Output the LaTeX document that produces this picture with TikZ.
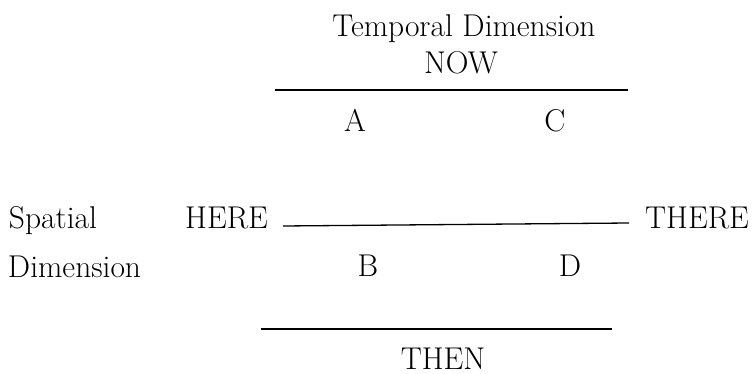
\documentclass[tikz,border=0pt]{standalone}
\begin{document}
\begin{tikzpicture}[x=1pt,y=-1pt,
  lbl/.style={inner sep=0pt,outer sep=0pt,font=\fontsize{31.5}{37}\selectfont},
  thick line/.style={line width=2.6pt},
  thin line/.style={line width=1.3pt}]
\useasboundingbox (0,0) rectangle (753,374);
% top
\node[lbl,anchor=base] (temporal) at (464,37) {Temporal Dimension};
\node[lbl,anchor=base] (now) at (461,74) {NOW};
\coordinate (nowL) at (275,90);
\coordinate (nowR) at (628,90);
\draw[thick line] (nowL) -- (nowR);
\node[lbl,anchor=base] (a) at (355,132) {A};
\node[lbl,anchor=base] (c) at (555,132) {C};
% middle
\node[lbl,anchor=base west] (spatial) at (9,229) {Spatial};
\node[lbl,anchor=base east] (here) at (268,229) {HERE};
\node[lbl,anchor=base east] (there) at (749,229) {THERE};
\coordinate (hl) at (283,226);
\coordinate (hr) at (629,223);
\draw[thin line] (hl) -- (hr);
\node[lbl,anchor=base west] (dimension) at (8,278) {Dimension};
\node[lbl,anchor=base] (b) at (368,277) {B};
\node[lbl,anchor=base] (d) at (570,277) {D};
% bottom
\coordinate (thenL) at (261,329);
\coordinate (thenR) at (612,329);
\draw[thick line] (thenL) -- (thenR);
\node[lbl,anchor=base] (then) at (443,369) {THEN};
\end{tikzpicture}
\end{document}
